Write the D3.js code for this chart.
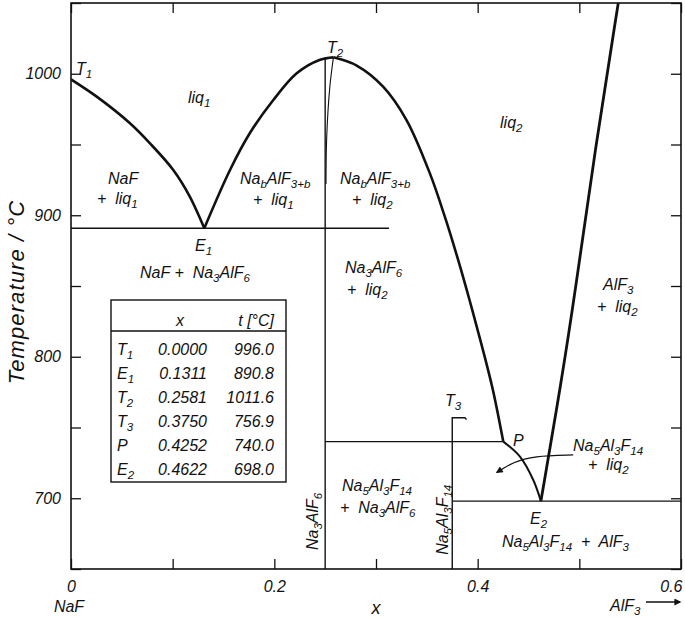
<!DOCTYPE html>
<html>
<head>
<meta charset="utf-8">
<script src="https://cdn.jsdelivr.net/npm/d3@7"></script>
<style>
  body { margin: 0; background: #fff; }
  svg text { font-family: "Liberation Sans", Arial, Helvetica, sans-serif; font-style: italic; fill: #111; }
</style>
</head>
<body>
<div id="chart"></div>
<script>
// NaF - AlF3 phase diagram (x = mole fraction AlF3)
const xTicks = [0, 0.1, 0.2, 0.3, 0.4, 0.5, 0.6]
const tTicks = [650, 700, 750, 800, 850, 900, 950, 1000, 1050]

// invariant points (table)
const invariants = [
    { label: "T_{1}", x: 0.0000, t: 996.0 },
    { label: "E_{1}", x: 0.1311, t: 890.8 },
    { label: "T_{2}", x: 0.2581, t: 1011.6 },
    { label: "T_{3}", x: 0.3750, t: 756.9 },
    { label: "P", x: 0.4252, t: 740.0 },
    { label: "E_{2}", x: 0.4622, t: 698.0 }
]

// liquidus branches [x, t]
const liqNaF = [[0, 996], [0.0253, 983.8], [0.058, 965], [0.0777, 950.8], [0.1006, 932], [0.117, 913], [0.1311, 890.8]]
const liqCryoLeft = [[0.1311, 890.8], [0.1564, 932], [0.176, 958.1], [0.199, 981.4], [0.222, 1000.3], [0.245, 1009.9], [0.2581, 1011.6]]
const liqCryoRight = [[0.2581, 1011.6], [0.281, 1005.8], [0.307, 990.9], [0.330, 967.3], [0.353, 929.6], [0.3677, 899], [0.3818, 866],
    [0.3920, 840.1], [0.4017, 814.2], [0.4094, 793], [0.4157, 774.2], [0.4252, 740]]
const liqChiolite = [[0.4252, 740], [0.4416, 729.4], [0.4547, 712.9], [0.4622, 698]]
const liqAlF3 = [[0.4622, 698], [0.4826, 783.6], [0.4957, 844.8], [0.5154, 946.1], [0.5383, 1050]]
// Na_b AlF_3+b solid solution boundary
const solvus = [[0.2581, 1011.6], [0.2545, 990], [0.2515, 955], [0.2508, 922]]

// invariant lines and compounds
const lineE1 = [[0, 890.8], [0.3128, 890.8]]
const lineP = [[0.25, 740], [0.4252, 740]]
const lineE2 = [[0.375, 698], [0.6, 698]]
const lineCryolite = [[0.25, 1010.8], [0.25, 650]]
const lineChiolite = [[0.375, 650], [0.375, 756.9], [0.3875, 756.9], [0.389, 755.6]]
const arrowPath = [[0.494, 730.6], [0.455, 729.9], [0.435, 725.6], [0.419, 718.3]]

// region labels: text, x, t
const regionLabels = [
    ["T_{1}", 0.0049, 999.8],
    ["liq_{1}", 0.115, 979.3],
    ["T_{2}", 0.2518, 1014.7],
    ["liq_{2}", 0.422, 961.7],
    ["NaF", 0.0364, 922.1],
    ["+  liq_{1}", 0.0256, 908],
    ["Na_{b}AlF_{3+b}", 0.1662, 922.1],
    ["+  liq_{1}", 0.179, 907.2],
    ["Na_{b}AlF_{3+b}", 0.2646, 922.1],
    ["+  liq_{2}", 0.2764, 907.2],
    ["E_{1}", 0.122, 874.7],
    ["NaF +  Na_{3}AlF_{6}", 0.0679, 855.7],
    ["Na_{3}AlF_{6}", 0.2695, 859.2],
    ["+  liq_{2}", 0.2715, 843.6],
    ["AlF_{3}", 0.5233, 847.2],
    ["+  liq_{2}", 0.5174, 831.6],
    ["T_{3}", 0.3679, 765.2],
    ["P", 0.4347, 736.9],
    ["Na_{5}Al_{3}F_{14}", 0.4938, 733.4],
    ["+  liq_{2}", 0.5085, 720],
    ["Na_{5}Al_{3}F_{14}", 0.2665, 705.1],
    ["+  Na_{3}AlF_{6}", 0.2646, 689.6],
    ["E_{2}", 0.4515, 681.8],
    ["Na_{5}Al_{3}F_{14}  +  AlF_{3}", 0.4239, 665.5]
]
const compoundLabels = [
    ["Na_{3}AlF_{6}", 0.2429, 663.4],
    ["Na_{5}Al_{3}F_{14}", 0.3708, 660]
]

const width = 685
const height = 618
const margin = { top: 3, right: 4, bottom: 49, left: 71 }

const x = d3.scaleLinear().domain([0, 0.6]).range([margin.left, width - margin.right])
const y = d3.scaleLinear().domain([650, 1050]).range([height - margin.bottom, margin.top])

const svg = d3.select("#chart").append("svg")
    .attr("width", width)
    .attr("height", height)
    .attr("viewBox", `0 0 ${width} ${height}`)

// text with _{sub} parts
function richText(sel, str, size, subSize) {
    const parts = str.split(/(_\{[^}]*\})/).filter(s => s.length)
    let down = false
    parts.forEach(p => {
        if (p.startsWith("_{")) {
            sel.append("tspan").attr("font-size", subSize).attr("dy", down ? 0 : 4)
                .text(p.slice(2, -1))
            down = true
        } else {
            sel.append("tspan").attr("font-size", size).attr("dy", down ? -4 : 0)
                .style("white-space", "pre").text(p)
            down = false
        }
    })
    sel.attr("xml:space", "preserve")
}

const line = d3.line().x(d => x(d[0])).y(d => y(d[1]))
const smooth = d3.line().x(d => x(d[0])).y(d => y(d[1])).curve(d3.curveCatmullRom.alpha(0.5))
const basis = d3.line().x(d => x(d[0])).y(d => y(d[1])).curve(d3.curveBasis)

svg.append("defs").append("marker")
    .attr("id", "head")
    .attr("viewBox", "0 0 10 10")
    .attr("refX", 8).attr("refY", 5)
    .attr("markerWidth", 9).attr("markerHeight", 7)
    .attr("markerUnits", "userSpaceOnUse")
    .attr("orient", "auto")
    .append("path").attr("d", "M0,0 L10,5 L0,10 z").attr("fill", "#111")

svg.append("clipPath").attr("id", "plot")
    .append("rect").attr("x", margin.left).attr("y", margin.top)
    .attr("width", width - margin.left - margin.right)
    .attr("height", height - margin.top - margin.bottom)

const g = svg.append("g").attr("clip-path", "url(#plot)")

// thin lines
const thin = [lineE1, lineP, lineE2, lineCryolite, lineChiolite]
g.selectAll(".thin").data(thin).join("path")
    .attr("class", "thin")
    .attr("d", line)
    .attr("fill", "none")
    .attr("stroke", "#111")
    .attr("stroke-width", 1.4)

g.append("path").attr("d", smooth(solvus))
    .attr("fill", "none").attr("stroke", "#111").attr("stroke-width", 1.1)

// liquidus
const curves = [
    { pts: liqNaF, w: 2.6, gen: smooth },
    { pts: liqCryoLeft, w: 2.6, gen: smooth },
    { pts: liqCryoRight, w: 2.6, gen: smooth },
    { pts: liqChiolite, w: 2.0, gen: smooth },
    { pts: liqAlF3, w: 2.8, gen: basis }
]
g.selectAll(".liq").data(curves).join("path")
    .attr("class", "liq")
    .attr("d", d => d.gen(d.pts))
    .attr("fill", "none")
    .attr("stroke", "#111")
    .attr("stroke-width", d => d.w)
    .attr("stroke-linejoin", "round")

// curved arrow
svg.append("path")
    .attr("d", basis(arrowPath))
    .attr("fill", "none").attr("stroke", "#111").attr("stroke-width", 1.3)
    .attr("marker-end", "url(#head)")

// axes
const xFmt = (d, i) => i % 2 ? "" : d3.format("~g")(d)
const yFmt = d => d % 100 === 0 ? d : ""

const axB = svg.append("g").attr("transform", `translate(0,${y(650)})`)
    .call(d3.axisBottom(x).tickValues(xTicks).tickSize(-10).tickPadding(12).tickFormat(xFmt))
const axT = svg.append("g").attr("transform", `translate(0,${y(1050)})`)
    .call(d3.axisTop(x).tickValues(xTicks).tickSize(-10).tickFormat(""))
const axL = svg.append("g").attr("transform", `translate(${x(0)},0)`)
    .call(d3.axisLeft(y).tickValues(tTicks).tickSize(-10).tickPadding(10).tickFormat(yFmt))
const axR = svg.append("g").attr("transform", `translate(${x(0.6)},0)`)
    .call(d3.axisRight(y).tickValues(tTicks).tickSize(-10).tickFormat(""))

;[axB, axT, axL, axR].forEach(a => {
    a.select(".domain").remove()
    a.selectAll(".tick line").attr("stroke", "#111").attr("stroke-width", 1.3)
    a.selectAll(".tick text").attr("font-size", 16).attr("fill", "#111")
        .style("font-family", "'Liberation Sans', Arial, sans-serif").style("font-style", "italic")
})
axB.selectAll(".tick text").filter(d => d === 0.6).attr("text-anchor", "end").attr("dx", 1)

svg.append("rect")
    .attr("x", x(0)).attr("y", y(1050))
    .attr("width", x(0.6) - x(0)).attr("height", y(650) - y(1050))
    .attr("fill", "none").attr("stroke", "#111").attr("stroke-width", 1.6)

// axis titles
svg.append("text")
    .attr("transform", `translate(24,292) rotate(-90)`)
    .attr("text-anchor", "middle")
    .attr("font-size", 22)
    .attr("letter-spacing", 1.1)
    .text("Temperature / °C")

svg.append("text").attr("x", x(0.3)).attr("y", 614).attr("text-anchor", "middle")
    .attr("font-size", 18).text("x")
svg.append("text").attr("x", x(0) - 2).attr("y", 612).attr("text-anchor", "middle")
    .attr("font-size", 16).text("NaF")
const alf = svg.append("text").attr("x", 610).attr("y", 611)
richText(alf, "AlF_{3}", 16, 11.5)
svg.append("line").attr("x1", 646).attr("x2", 680).attr("y1", 602).attr("y2", 602)
    .attr("stroke", "#111").attr("stroke-width", 1.4).attr("marker-end", "url(#head)")

// region labels
svg.selectAll(".lab").data(regionLabels).join("text")
    .attr("class", "lab")
    .attr("x", d => x(d[1]))
    .attr("y", d => y(d[2]))
    .each(function (d) { richText(d3.select(this), d[0], 16, 11.5) })

svg.selectAll(".cmp").data(compoundLabels).join("text")
    .attr("class", "cmp")
    .attr("transform", d => `translate(${x(d[1])},${y(d[2])}) rotate(-90)`)
    .each(function (d) { richText(d3.select(this), d[0], 16, 11.5) })

// invariant point table
const tb = { left: 111, top: 300, w: 175, head: 31, row: 24 }
const table = svg.append("g")
table.append("rect")
    .attr("x", tb.left).attr("y", tb.top)
    .attr("width", tb.w).attr("height", tb.head + tb.row * invariants.length + 7)
    .attr("fill", "#fff").attr("stroke", "#111").attr("stroke-width", 1.4)
table.append("line")
    .attr("x1", tb.left).attr("x2", tb.left + tb.w)
    .attr("y1", tb.top + tb.head).attr("y2", tb.top + tb.head)
    .attr("stroke", "#111").attr("stroke-width", 1.4)
table.append("text").attr("x", tb.left + 69).attr("y", tb.top + 26)
    .attr("text-anchor", "middle").attr("font-size", 16).text("x")
table.append("text").attr("x", tb.left + 163).attr("y", tb.top + 26)
    .attr("text-anchor", "end").attr("font-size", 16).text("t [°C]")

const rows = table.selectAll(".row").data(invariants).join("g")
    .attr("class", "row")
    .attr("transform", (d, i) => `translate(0,${tb.top + tb.head + 24 + i * tb.row})`)
rows.append("text").attr("x", tb.left + 6)
    .each(function (d) { richText(d3.select(this), d.label, 16, 11.5) })
rows.append("text").attr("x", tb.left + 96).attr("text-anchor", "end")
    .attr("font-size", 16).text(d => d.x.toFixed(4))
rows.append("text").attr("x", tb.left + 163).attr("text-anchor", "end")
    .attr("font-size", 16).text(d => d.t.toFixed(1))
</script>
</body>
</html>
